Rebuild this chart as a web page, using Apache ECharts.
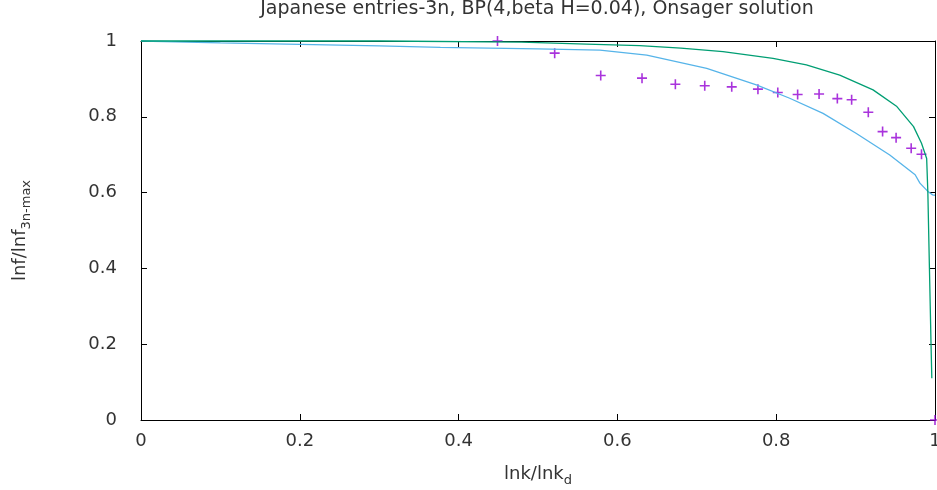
<!DOCTYPE html>
<html><head><meta charset="utf-8">
<script src="https://cdn.jsdelivr.net/npm/echarts@6/dist/echarts.min.js"></script>
<style>html,body{margin:0;padding:0;background:#fff}#c{width:937px;height:490px}</style>
</head><body><div id="c"></div>
<script>
var titleText = 'Japanese entries-3n, BP(4,beta H=0.04), Onsager solution';
var xTicks = [0, 0.2, 0.4, 0.6, 0.8, 1];
var yTicks = [0, 0.2, 0.4, 0.6, 0.8, 1];
// Japanese entries (purple plus markers)
var entriesX = [0.449, 0.521, 0.579, 0.631, 0.673, 0.710, 0.744, 0.777, 0.802, 0.827, 0.854, 0.877, 0.895, 0.916, 0.934, 0.951, 0.970, 0.983, 1.0];
var entriesY = [1.0, 0.968, 0.909, 0.902, 0.886, 0.882, 0.879, 0.873, 0.864, 0.859, 0.860, 0.848, 0.845, 0.812, 0.761, 0.745, 0.717, 0.701, 0.0];
// Onsager solution (green)
var onsagerX = [0.0, 0.3, 0.479, 0.561, 0.628, 0.680, 0.733, 0.796, 0.838, 0.880, 0.922, 0.952, 0.973, 0.983, 0.9895, 0.991, 0.993, 0.994, 0.995, 0.996];
var onsagerY = [1.0, 1.0, 0.997, 0.992, 0.988, 0.981, 0.972, 0.954, 0.937, 0.910, 0.871, 0.827, 0.774, 0.730, 0.690, 0.600, 0.400, 0.300, 0.200, 0.110];
// BP(4) (light blue)
var bpX = [0.0, 0.1, 0.2, 0.3, 0.377, 0.5, 0.578, 0.637, 0.7125, 0.775, 0.817, 0.859, 0.901, 0.943, 0.975, 0.981, 0.9916, 0.997, 1.0];
var bpY = [1.0, 0.995, 0.991, 0.987, 0.983, 0.979, 0.976, 0.963, 0.928, 0.884, 0.849, 0.809, 0.756, 0.699, 0.647, 0.625, 0.602, 0.594, 0.593];

function pairs(xs, ys){ return xs.map(function(x,i){return [x, ys[i]];}); }

var font = 'DejaVu Sans';
var txt = '#333';
var chart = echarts.init(document.getElementById('c'), null, {renderer:'canvas'});
var axisCommon = {
  min: 0, max: 1, interval: 0.2,
  axisLine: {show: true, onZero: false, lineStyle: {color: '#000', width: 1}},
  axisTick: {show: true, inside: true, length: 6, lineStyle: {color: '#000'}},
  splitLine: {show: false}
};
chart.setOption({
  animation: false,
  backgroundColor: '#fff',
  title: {text: titleText, left: 532, top: -5, textAlign: 'center',
    textStyle: {fontFamily: font, fontSize: 19, fontWeight: 'normal', color: txt}},
  grid: {left: 141, right: 2, top: 41, bottom: 70, containLabel: false, outerBoundsMode: 'none'},
  xAxis: [
    Object.assign({}, axisCommon, {type: 'value', position: 'bottom',
      name: '{a|lnk/lnk}{s|d}', nameLocation: 'middle', nameGap: 42,
      nameTextStyle: {rich: {a: {fontFamily: font, fontSize: 18, color: txt}, s: {fontFamily: font, fontSize: 13, color: txt, padding: [12,0,0,0]}}},
      axisLabel: {fontFamily: font, fontSize: 18, color: txt, margin: 12,
        formatter: function(v){ return xTicks.indexOf(+v.toFixed(1)) >= 0 ? String(+v.toFixed(1)) : ''; }}}),
    Object.assign({}, axisCommon, {type: 'value', position: 'top', axisLabel: {show: false}})
  ],
  yAxis: [
    Object.assign({}, axisCommon, {type: 'value', position: 'left',
      name: '{a|lnf/lnf}{s|3n-max}', nameLocation: 'middle', nameGap: 108, nameRotate: 90,
      nameTextStyle: {rich: {a: {fontFamily: font, fontSize: 18, color: txt}, s: {fontFamily: font, fontSize: 13, color: txt, padding: [12,0,0,0]}}},
      axisLabel: {fontFamily: font, fontSize: 18, color: txt, margin: 24,
        formatter: function(v){ return yTicks.indexOf(+v.toFixed(1)) >= 0 ? String(+v.toFixed(1)) : ''; }}}),
    Object.assign({}, axisCommon, {type: 'value', position: 'right', axisLabel: {show: false}})
  ],
  series: [
    {type: 'line', name: 'BP', data: pairs(bpX, bpY), showSymbol: false, symbol: 'none',
      lineStyle: {color: '#56b4e9', width: 1.3}, clip: false},
    {type: 'line', name: 'Onsager', data: pairs(onsagerX, onsagerY), showSymbol: false, symbol: 'none',
      lineStyle: {color: '#009e73', width: 1.3}, clip: false},
    {type: 'scatter', name: 'entries', data: pairs(entriesX, entriesY),
      symbol: 'path://M4.2,0H5.8V4.2H10V5.8H5.8V10H4.2V5.8H0V4.2H4.2Z', symbolSize: 10,
      itemStyle: {color: '#9400d3'}, clip: false}
  ]
});
</script></body></html>
